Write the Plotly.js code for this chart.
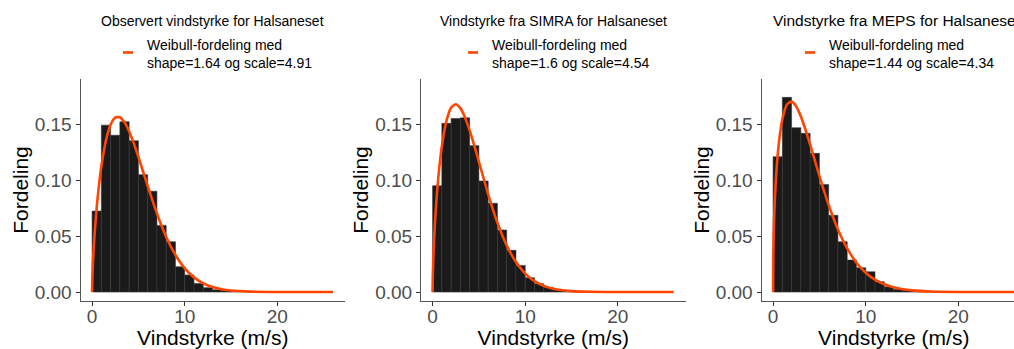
<!DOCTYPE html>
<html>
<head>
<meta charset="utf-8">
<script src="https://cdn.plot.ly/plotly-3.0.1.min.js"></script>
<style>
html, body { margin: 0; padding: 0; overflow: hidden; background: #fff; }
#chart { width: 1026px; height: 349px; }
</style>
</head>
<body>
<div id="chart"></div>
<script>
// ---- data ----
const panelTitles = ["Observert vindstyrke for Halsaneset", "Vindstyrke fra SIMRA for Halsaneset", "Vindstyrke fra MEPS for Halsaneset"];
const weibullShape = [1.64, 1.6, 1.44];
const weibullScale = [4.91, 4.54, 4.34];

// histogram bins (width 1 m/s), centers
const binCenters = [0.5, 1.5, 2.5, 3.5, 4.5, 5.5, 6.5, 7.5, 8.5, 9.5, 10.5, 11.5, 12.5, 13.5, 14.5, 15.5, 16.5, 17.5, 18.5, 19.5, 20.5, 21.5, 22.5, 23.5, 24.5, 25.5];
const obsDensity   = [0.0723, 0.1490, 0.1400, 0.1520, 0.1350, 0.1048, 0.0900, 0.0595, 0.0449, 0.0226, 0.0152, 0.0077, 0.0039, 0.0020, 0.0015, 0.0010, 0.0006, 0.0004, 0.0003, 0.0002, 0.0001, 0.0001, 0.0001, 0.0001, 0.0000, 0.0001];
const simraDensity = [0.0949, 0.1506, 0.1550, 0.1555, 0.1307, 0.0991, 0.0792, 0.0554, 0.0372, 0.0238, 0.0128, 0.0074, 0.0042, 0.0024, 0.0015, 0.0008, 0.0005, 0.0003, 0.0002, 0.0001, 0.0001, 0.0001, 0.0000, 0.0000, 0.0000, 0.0001];
const mepsDensity  = [0.1208, 0.1738, 0.1467, 0.1417, 0.1238, 0.0961, 0.0685, 0.0449, 0.0286, 0.0217, 0.0181, 0.0092, 0.0047, 0.0024, 0.0015, 0.0008, 0.0005, 0.0003, 0.0002, 0.0001, 0.0001, 0.0001, 0.0000, 0.0000, 0.0000, 0.0000];

// fitted Weibull curves
const curveX     = [0, 0.02, 0.1, 0.25, 0.5, 0.75, 1, 1.5, 2, 2.5, 3, 3.5, 4, 4.5, 5, 6, 7, 8, 9, 10, 11, 12, 13, 14, 15, 17, 20, 23, 26];
const obsCurve   = [0, 0.0099, 0.0276, 0.0493, 0.0756, 0.0959, 0.1121, 0.1355, 0.1495, 0.1558, 0.1560, 0.1515, 0.1434, 0.1328, 0.1206, 0.0947, 0.0701, 0.0492, 0.0331, 0.0212, 0.0131, 0.0078, 0.0045, 0.0025, 0.0013, 0.00035, 0.00004, 0, 0];
const simraCurve = [0, 0.0136, 0.0356, 0.0613, 0.0911, 0.1131, 0.1301, 0.1530, 0.1646, 0.1677, 0.1642, 0.1559, 0.1444, 0.1308, 0.1163, 0.0873, 0.0619, 0.0417, 0.0268, 0.0165, 0.0097, 0.0055, 0.0030, 0.0016, 0.0008, 0.0002, 0.00002, 0, 0];
const mepsCurve  = [0, 0.0311, 0.0629, 0.0930, 0.1226, 0.1415, 0.1542, 0.1674, 0.1700, 0.1657, 0.1567, 0.1449, 0.1316, 0.1176, 0.1036, 0.0777, 0.0559, 0.0389, 0.0262, 0.0172, 0.0110, 0.0069, 0.0042, 0.0025, 0.0015, 0.0005, 0.00008, 0.00001, 0];

const xTicks = [0, 10, 20];
const yTicks = [0, 0.05, 0.10, 0.15];
const yTickText = ["0.00", "0.05", "0.10", "0.15"];
const xTitle = "Vindstyrke (m/s)";
const yTitle = "Fordeling";

// ---- layout ----
const W = 1026, H = 349;
const FONT = "Liberation Sans, Arial, Helvetica, sans-serif";
const densities = [obsDensity, simraDensity, mepsDensity];
const curves = [obsCurve, simraCurve, mepsCurve];
const panelLeft = [80.5, 421, 761.5];
const panelWidth = 264.5;
const plotTop = 79, plotBottom = 301;
const legendTextX = [145, 490, 827];
const legendKeyX = [123, 468, 805];
const titleLeft = [null, null, 771];
const titleSize = [14, 14, 15.5];

const traces = [];
const layout = {
  width: W, height: H,
  margin: {l: 0, r: 0, t: 0, b: 0},
  paper_bgcolor: "#fff", plot_bgcolor: "#fff",
  showlegend: false,
  bargap: 0,
  font: {family: FONT, color: "#000"},
  annotations: [], shapes: []
};

for (let i = 0; i < 3; i++) {
  const sfx = i === 0 ? "" : String(i + 1);
  traces.push({
    type: "bar", x: binCenters, y: densities[i],
    xaxis: "x" + sfx, yaxis: "y" + sfx,
    marker: {color: "#1a1a1a", line: {color: "#383838", width: 0.6}},
    hoverinfo: "x+y"
  });
  traces.push({
    type: "scatter", mode: "lines", x: curveX, y: curves[i],
    xaxis: "x" + sfx, yaxis: "y" + sfx,
    line: {color: "#ff4500", width: 2.6, shape: "spline", smoothing: 0.6},
    name: "Weibull-fordeling med<br>shape=" + weibullShape[i] + " og scale=" + weibullScale[i]
  });
  layout["xaxis" + sfx] = {
    domain: [panelLeft[i] / W, Math.min(1, (panelLeft[i] + panelWidth) / W)],
    anchor: "y" + sfx,
    range: [-1.25, 27.3],
    tickvals: xTicks,
    ticks: "outside", ticklen: 4, tickcolor: "#333", tickwidth: 1,
    ticklabelstandoff: -6,
    showline: true, linecolor: "#555", linewidth: 1,
    showgrid: false, zeroline: false,
    tickfont: {size: 19, color: "#4d4d4d", family: FONT},
    title: {text: xTitle, font: {size: 21, color: "#000", family: FONT}, standoff: 9}
  };
  layout["yaxis" + sfx] = {
    domain: [1 - plotBottom / H, 1 - plotTop / H],
    anchor: "x" + sfx,
    range: [-0.008, 0.1902],
    tickvals: yTicks, ticktext: yTickText,
    ticks: "outside", ticklen: 4, tickcolor: "#333", tickwidth: 1,
    showline: true, linecolor: "#555", linewidth: 1,
    showgrid: false, zeroline: false,
    tickfont: {size: 19, color: "#4d4d4d", family: FONT},
    title: {text: yTitle, font: {size: 21, color: "#000", family: FONT}, standoff: 0}
  };
  // panel title
  const tl = titleLeft[i];
  layout.annotations.push({
    xref: "paper", yref: "paper",
    x: tl === null ? (panelLeft[i] + panelWidth / 2) / W : tl / W, y: 1 - 21 / H,
    xanchor: tl === null ? "center" : "left", yanchor: "middle", showarrow: false,
    text: panelTitles[i], font: {size: titleSize[i], color: "#000", family: FONT}
  });
  // legend text
  layout.annotations.push({
    xref: "paper", yref: "paper",
    x: legendTextX[i] / W, y: 1 - 53.5 / H,
    xanchor: "left", yanchor: "middle", align: "left", showarrow: false,
    text: "Weibull-fordeling med<br>shape=" + weibullShape[i] + " og scale=" + weibullScale[i],
    font: {size: 14, color: "#000", family: FONT}
  });
  // legend key
  layout.shapes.push({
    type: "line", xref: "paper", yref: "paper",
    x0: legendKeyX[i] / W, x1: (legendKeyX[i] + 10) / W,
    y0: 1 - 52.5 / H, y1: 1 - 52.5 / H,
    line: {color: "#ff4500", width: 2.6}
  });
}

Plotly.newPlot("chart", traces, layout, {displayModeBar: false, staticPlot: true});
</script>
</body>
</html>
